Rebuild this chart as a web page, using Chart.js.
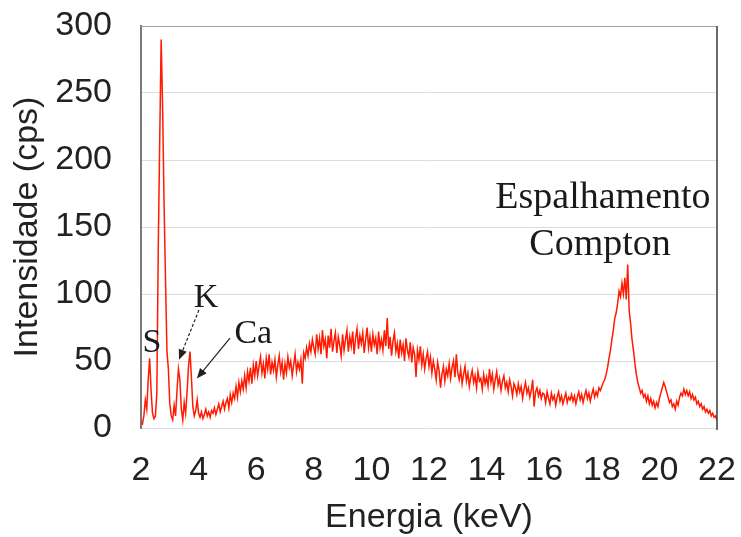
<!DOCTYPE html>
<html>
<head>
<meta charset="utf-8">
<script src="https://cdn.jsdelivr.net/npm/chart.js@4.4.0/dist/chart.umd.min.js"></script>
<style>
  html, body { margin: 0; padding: 0; background: #fff; }
  #wrap { width: 741px; height: 537px; }
</style>
</head>
<body>
<div id="wrap"><canvas id="spectrum" width="741" height="537"></canvas></div>
<script>
'use strict';

// Canais do espectro (keV)
const energyStart = 2;
const energyStep = 0.05;

// Intensidade (cps), uma linha por keV (2.00 ... 21.95) + último ponto em 22.00
const counts = [
  4, 3, 9, 21, 14, 36, 52, 28, 11, 7, 9, 26, 135, 215, 290, 240, 168, 112, 58, 44,
  18, 9, 6, 17, 9, 28, 44, 36, 14, 6, 19, 11, 27, 46, 57, 38, 16, 9, 13, 21,
  11, 8, 12, 7, 10, 14, 9, 12, 8, 13, 11, 15, 10, 14, 18, 12, 16, 20, 14, 19,
  22, 15, 25, 19, 26, 22, 31, 23, 34, 27, 35, 29, 39, 30, 42, 35, 45, 33, 47, 39,
  50, 39, 46, 53, 41, 48, 37, 52, 44, 55, 40, 49, 43, 51, 38, 47, 54, 42, 49, 36,
  48, 41, 53, 45, 50, 39, 47, 55, 42, 49, 44, 51, 33, 56, 52, 60, 54, 63, 57, 66,
  60, 55, 70, 59, 67, 55, 73, 61, 66, 52, 69, 60, 74, 57, 65, 71, 56, 68, 62, 54,
  70, 58, 66, 73, 57, 68, 61, 72, 55, 67, 74, 59, 69, 63, 71, 56, 66, 75, 60, 68,
  57, 70, 62, 67, 55, 72, 60, 66, 58, 73, 61, 82, 59, 68, 54, 65, 71, 57, 63, 52,
  66, 56, 62, 50, 67, 58, 53, 64, 49, 60, 55, 38, 58, 51, 61, 47, 55, 44, 52, 57,
  46, 53, 41, 50, 44, 36, 49, 43, 30, 40, 46, 35, 44, 39, 48, 37, 45, 50, 38, 55,
  41, 36, 44, 33, 40, 46, 35, 41, 31, 38, 43, 34, 39, 30, 42, 35, 37, 29, 40, 33,
  38, 31, 44, 34, 40, 29, 36, 42, 32, 37, 28, 35, 39, 30, 34, 27, 36, 31, 24, 33,
  30, 25, 33, 27, 31, 22, 29, 34, 26, 30, 23, 28, 36, 16, 27, 30, 24, 28, 22, 26,
  25, 19, 27, 22, 18, 26, 21, 24, 17, 23, 27, 20, 24, 18, 22, 26, 19, 23, 21, 25,
  20, 24, 18, 23, 27, 21, 25, 19, 24, 28, 22, 26, 20, 25, 29, 23, 27, 24, 30, 28,
  31, 34, 36, 40, 45, 52, 58, 66, 73, 82, 86, 93, 102, 98, 108, 100, 112, 96, 122, 88,
  78, 66, 58, 48, 40, 34, 30, 26, 28, 23, 25, 20, 24, 18, 22, 17, 20, 15, 19, 16,
  22, 26, 30, 34, 31, 27, 23, 19, 21, 16, 18, 14, 20, 17, 23, 26, 24, 29, 25, 28,
  24, 27, 22, 25, 21, 23, 18, 20, 16, 18, 14, 16, 12, 14, 11, 13, 9, 11, 8, 9,
  6
];

const xTicks = [2, 4, 6, 8, 10, 12, 14, 16, 18, 20, 22];
const yTicks = [0, 50, 100, 150, 200, 250, 300];

// Rótulos dos picos (keV, cps)
const peakLabels = [
  { text: 'S', x: 2.38, y: 57, size: 34 },
  { text: 'K', x: 4.26, y: 90, size: 34 },
  { text: 'Ca', x: 5.9, y: 63.5, size: 34 },
  { text: 'Espalhamento', x: 18.04, y: 164, size: 38 },
  { text: 'Compton', x: 17.94, y: 129, size: 38 }
];

// Setas (de -> para), em keV / cps
const peakArrows = [
  { from: [4.01, 88], to: [3.32, 51], dashed: true },
  { from: [5.09, 67], to: [3.94, 37], dashed: false }
];

const sansFont = '"Liberation Sans", Arial, sans-serif';
const serifFont = '"Liberation Serif", "Times New Roman", serif';

const points = counts.map((c, i) => ({ x: +(energyStart + i * energyStep).toFixed(2), y: c }));

const annotationPlugin = {
  id: 'spectrumAnnotations',
  afterDatasetsDraw(chart) {
    const { ctx, chartArea, scales } = chart;
    const xs = scales.x, ys = scales.y;
    ctx.save();

    // moldura superior e direita
    ctx.strokeStyle = '#a0a0a0';
    ctx.lineWidth = 1;
    ctx.beginPath();
    ctx.moveTo(chartArea.left, chartArea.top + 0.5);
    ctx.lineTo(chartArea.right, chartArea.top + 0.5);
    ctx.stroke();
    ctx.strokeStyle = '#3a3a3a';
    ctx.lineWidth = 1.5;
    ctx.beginPath();
    ctx.moveTo(chartArea.right, chartArea.top);
    ctx.lineTo(chartArea.right, chartArea.bottom + 2);
    ctx.stroke();

    // setas
    ctx.strokeStyle = '#222';
    ctx.fillStyle = '#222';
    ctx.lineWidth = 1.2;
    peakArrows.forEach(a => {
      const x1 = xs.getPixelForValue(a.from[0]), y1 = ys.getPixelForValue(a.from[1]);
      const x2 = xs.getPixelForValue(a.to[0]), y2 = ys.getPixelForValue(a.to[1]);
      const ang = Math.atan2(y2 - y1, x2 - x1);
      const head = 11;
      ctx.setLineDash(a.dashed ? [3, 2] : []);
      ctx.beginPath();
      ctx.moveTo(x1, y1);
      ctx.lineTo(x2 - Math.cos(ang) * head * 0.8, y2 - Math.sin(ang) * head * 0.8);
      ctx.stroke();
      ctx.setLineDash([]);
      ctx.beginPath();
      ctx.moveTo(x2, y2);
      ctx.lineTo(x2 - head * Math.cos(ang - 0.4), y2 - head * Math.sin(ang - 0.4));
      ctx.lineTo(x2 - head * Math.cos(ang + 0.4), y2 - head * Math.sin(ang + 0.4));
      ctx.closePath();
      ctx.fill();
    });

    // textos
    ctx.textAlign = 'center';
    ctx.textBaseline = 'alphabetic';
    ctx.fillStyle = '#1a1a1a';
    peakLabels.forEach(l => {
      ctx.font = l.size + 'px ' + serifFont;
      ctx.fillText(l.text, xs.getPixelForValue(l.x), ys.getPixelForValue(l.y));
    });
    ctx.restore();
  }
};

new Chart(document.getElementById('spectrum').getContext('2d'), {
  type: 'line',
  data: {
    datasets: [{
      data: points,
      borderColor: '#ff1a00',
      borderWidth: 1.5,
      pointRadius: 0,
      tension: 0,
      fill: false
    }]
  },
  options: {
    responsive: false,
    animation: false,
    events: [],
    layout: { padding: { top: 26, right: 24, left: 0, bottom: 0 } },
    plugins: { legend: { display: false }, tooltip: { enabled: false } },
    scales: {
      x: {
        type: 'linear',
        min: 2,
        max: 22,
        afterFit(scale) {
          scale.height = 109;
          // sem folga extra por causa do padding dos ticks
          scale.paddingLeft = 0;
          scale.paddingRight = 0;
        },
        afterBuildTicks(scale) { scale.ticks = xTicks.map(v => ({ value: v })); },
        grid: { display: false, drawTicks: false },
        border: { display: false },
        ticks: {
          color: '#222',
          font: { family: sansFont, size: 34, lineHeight: 1 },
          padding: 26,
          maxRotation: 0,
          autoSkip: false
        },
        title: {
          display: true,
          text: 'Energia (keV)',
          color: '#222',
          font: { family: sansFont, size: 34, lineHeight: 1 },
          padding: { top: 0, bottom: 2 }
        }
      },
      y: {
        min: 0,
        max: 300,
        afterFit(scale) {
          scale.width = 141;
          scale.paddingTop = 0;
          scale.paddingBottom = 0;
        },
        afterBuildTicks(scale) { scale.ticks = yTicks.map(v => ({ value: v })); },
        grid: { color: '#dcdcdc', lineWidth: 1, drawTicks: false },
        border: { display: true, color: '#7a7a7a', width: 2 },
        ticks: {
          color: '#222',
          font: { family: sansFont, size: 34, lineHeight: 1 },
          padding: 29
        },
        title: {
          display: true,
          text: 'Intensidade (cps)',
          color: '#222',
          font: { family: sansFont, size: 34, lineHeight: 1 },
          padding: { top: 11, bottom: 0 }
        }
      }
    }
  },
  plugins: [annotationPlugin]
});
</script>
</body>
</html>
